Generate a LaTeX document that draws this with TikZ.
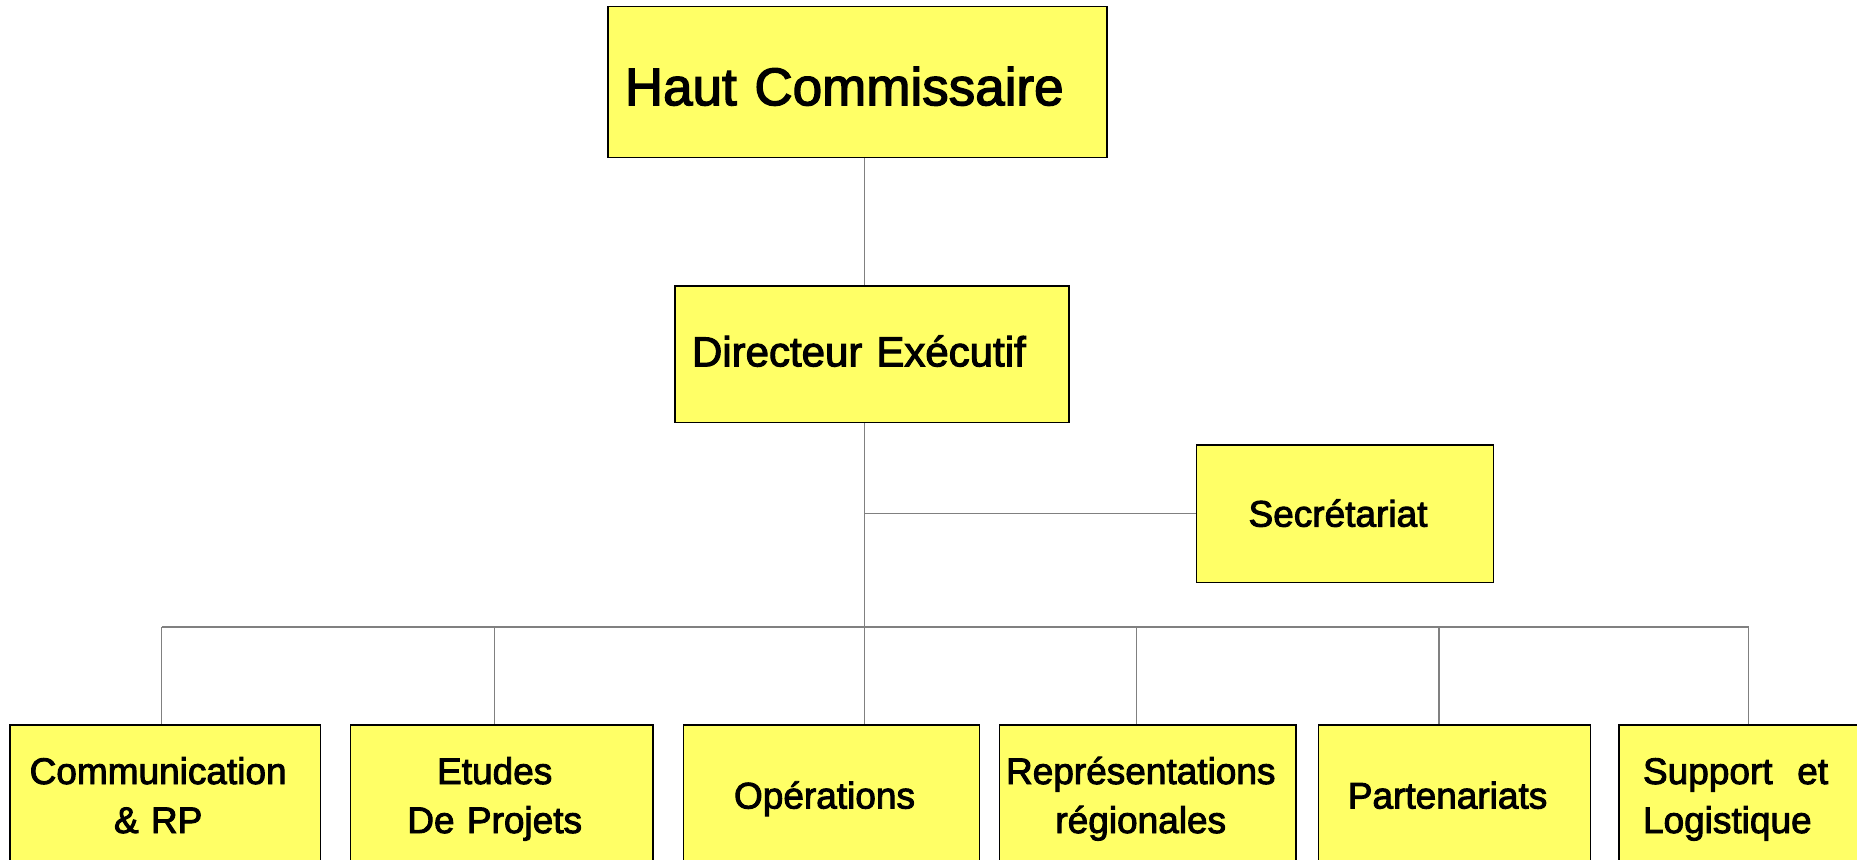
\documentclass[tikz,border=0pt]{standalone}
\usepackage{fontspec}
\setmainfont[FakeBold=2.5]{Liberation Sans}
\usepackage{xcolor}
\usepackage{tikz}
\definecolor{boxyellow}{HTML}{FFFF66}
\definecolor{linkgray}{HTML}{808080}
\tikzstyle{box} = [draw=black, line width=1.5pt, fill=boxyellow, rectangle, inner sep=0pt, align=center, font=\fontsize{37}{49}\selectfont, text height=27pt, text depth=8pt]
\tikzstyle{lefted} = [execute at begin node={\leftskip=0pt plus 1fil\rightskip=14pt plus 1fil\parfillskip=0pt\relax}]
\tikzstyle{link} = [draw=linkgray, line width=1.5pt]

\begin{document}
\begin{tikzpicture}[x=1pt, y=-1pt]
    \useasboundingbox (0,0) rectangle (1857,859);
    \clip (0,0) rectangle (1857,859);

    % top of the chart
    \node[box, minimum height=151pt, text width=465pt, inner xsep=17pt, align=left, font=\fontsize{53}{64}\selectfont, text height=46pt, text depth=0pt] (chief) at (857.35,82.2) {Haut Commissaire};
    \node[box, minimum height=136.7pt, text width=360pt, inner xsep=17pt, align=left, font=\fontsize{42}{50}\selectfont, text height=30pt, text depth=6pt] (director) at (872,354.35) {Directeur Exécutif};
    \node[box, lefted, minimum height=137.3pt, text width=296.6pt, text depth=1pt] (secretariat) at (1345,513.65) {Secrétariat};

    % departments
    \node[box, lefted, minimum height=148pt, text width=310.7pt, text depth=57pt] (comm) at (165.15,799) {Communication\\ \& RP};
    \node[box, lefted, minimum height=148pt, text width=302.6pt, text depth=57pt] (studies) at (501.7,799) {Etudes\\ De Projets};
    \node[box, lefted, minimum height=148pt, text width=296pt] (ops) at (831.5,799) {Opérations};
    \node[box, lefted, minimum height=148pt, text width=296.5pt, text depth=57pt] (regions) at (1147.75,799) {Représentations\\ régionales};
    \node[box, lefted, minimum height=148pt, text width=272.1pt] (partners) at (1454.55,799) {Partenariats};
    \node[box, minimum height=148pt, text width=212pt, inner xsep=24pt, align=left, text depth=57pt] (support) at (1749,799) {Support\ \ et\\ Logistique};

    % lines
    \coordinate (trunk) at (864.6,0);
    \coordinate (bus1) at (161.6,627);
    \coordinate (bus2) at (494.6,627);
    \coordinate (bus3) at (864.6,627);
    \coordinate (bus4) at (1136.6,627);
    \coordinate (bus5) at (1439,627);
    \coordinate (bus6) at (1748.7,627);

    \draw[link] (chief.south -| trunk) -- (director.north -| trunk);
    \draw[link] (director.south -| trunk) -- (bus3);
    \draw[link] (secretariat.west -| trunk) -- (secretariat.west);
    \draw[link] (bus1) -- (bus6);
    \draw[link] (bus1) -- (bus1 |- comm.north);
    \draw[link] (bus2) -- (bus2 |- studies.north);
    \draw[link] (bus3) -- (bus3 |- ops.north);
    \draw[link] (bus4) -- (bus4 |- regions.north);
    \draw[link] (bus5) -- (bus5 |- partners.north);
    \draw[link] (bus6) -- (bus6 |- support.north);
\end{tikzpicture}
\end{document}
